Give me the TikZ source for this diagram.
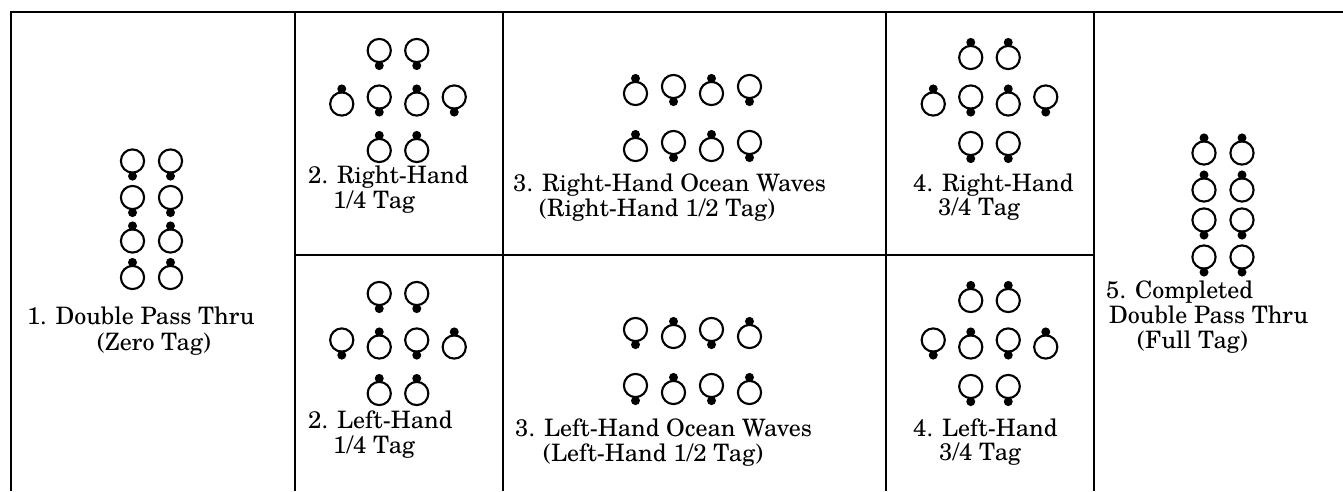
\documentclass[tikz,border=0pt]{standalone}
\usepackage{fontspec}
\setmainfont{TeX Gyre Schola}
\begin{document}
\begin{tikzpicture}[x=1pt,y=-1pt,
  frame/.style={line width=2pt},
  captext/.style={font=\fontsize{24}{28}\selectfont, anchor=base west, inner sep=0pt},
  up/.pic={\draw[line width=2.1pt] (0,3.5) circle[radius=11.6pt]; \fill (0,-11.6) circle[radius=4.5pt];},
  down/.pic={\draw[line width=2.1pt] (0,-3.5) circle[radius=11.6pt]; \fill (0,11.6) circle[radius=4.5pt];}]
\useasboundingbox (0,0) rectangle (1343,491);
\fill[white] (0,0) rectangle (1343,491);
% frame
\draw[frame] (11,491) -- (11,12) -- (1343,12);
\foreach \x in {295,503,886,1094} \draw[frame] (\x,12) -- (\x,491);
\draw[frame] (295,255) -- (1094,255);
% panel 1
\foreach \x in {132.5,170.5}{
  \pic at (\x,164.5) {down}; \pic at (\x,201) {down};
  \pic at (\x,237.5) {up}; \pic at (\x,274) {up};}
\node[captext] (t1a) at (27,324.5) {1. Double Pass Thru};
\node[captext] (t1b) at (97,350.5) {(Zero Tag)};
% panel 2 upper
\foreach \x in {379.25,416.75}{\pic at (\x,54) {down}; \pic at (\x,147) {up};}
\pic at (341.75,100.5) {up}; \pic at (379.25,100.5) {down};
\pic at (416.75,100.5) {up}; \pic at (454.25,100.5) {down};
\node[captext] (t2a) at (308,183.5) {2. Right-Hand};
\node[captext] (t2b) at (333,208.5) {1/4 Tag};
% panel 2 lower
\foreach \x in {379.25,416.75}{\pic at (\x,297) {down}; \pic at (\x,390) {up};}
\pic at (341.75,343.5) {down}; \pic at (379.25,343.5) {up};
\pic at (416.75,343.5) {down}; \pic at (454.25,343.5) {up};
\node[captext] (t2c) at (308,428.5) {2. Left-Hand};
\node[captext] (t2d) at (333,453.5) {1/4 Tag};
% panel 3 upper
\foreach \y in {90,146}{
  \pic at (635.5,\y) {up}; \pic at (673.5,\y) {down};
  \pic at (711.5,\y) {up}; \pic at (749.5,\y) {down};}
\node[captext] (t3a) at (513,191.5) {3. Right-Hand Ocean Waves};
\node[captext] (t3b) at (539,216.5) {(Right-Hand 1/2 Tag)};
% panel 3 lower
\foreach \y in {333,389}{
  \pic at (635.5,\y) {down}; \pic at (673.5,\y) {up};
  \pic at (711.5,\y) {down}; \pic at (749.5,\y) {up};}
\node[captext] (t3c) at (515,436.5) {3. Left-Hand Ocean Waves};
\node[captext] (t3d) at (543,461.5) {(Left-Hand 1/2 Tag)};
% panel 4 upper
\foreach \x in {970.75,1008.25}{\pic at (\x,54) {up}; \pic at (\x,147) {down};}
\pic at (933.25,100.5) {up}; \pic at (970.75,100.5) {down};
\pic at (1008.25,100.5) {up}; \pic at (1045.75,100.5) {down};
\node[captext] (t4a) at (913,191.5) {4. Right-Hand};
\node[captext] (t4b) at (938,215.5) {3/4 Tag};
% panel 4 lower
\foreach \x in {970.75,1008.25}{\pic at (\x,297) {up}; \pic at (\x,390) {down};}
\pic at (933.25,343.5) {down}; \pic at (970.75,343.5) {up};
\pic at (1008.25,343.5) {down}; \pic at (1045.75,343.5) {up};
\node[captext] (t4c) at (913,436.5) {4. Left-Hand};
\node[captext] (t4d) at (939,460.5) {3/4 Tag};
% panel 5
\foreach \x in {1204,1242}{
  \pic at (\x,149.5) {up}; \pic at (\x,186.5) {up};
  \pic at (\x,223.5) {down}; \pic at (\x,260.5) {down};}
\node[captext] (t5a) at (1106,298.5) {5. Completed};
\node[captext] (t5b) at (1109,323.5) {Double Pass Thru};
\node[captext] (t5c) at (1137,348.5) {(Full Tag)};
\end{tikzpicture}
\end{document}
